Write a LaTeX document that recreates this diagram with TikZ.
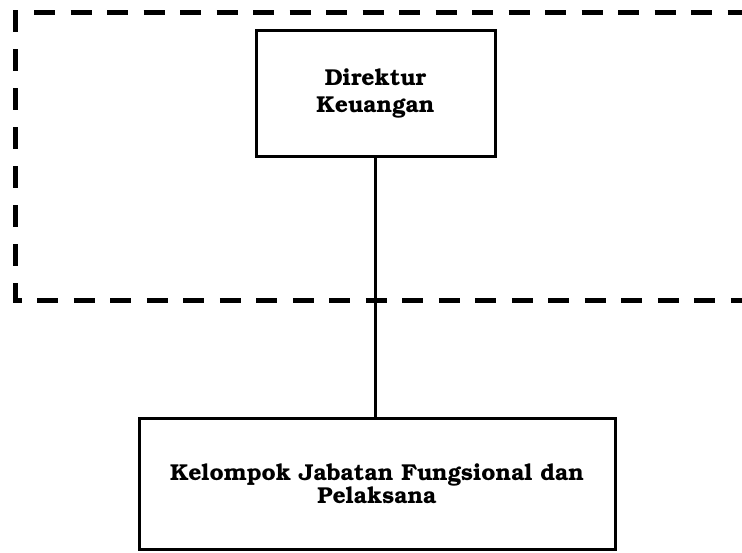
\documentclass[tikz,border=0pt]{standalone}
\usepackage[T1]{fontenc}
\usepackage{bookman}
\begin{document}
\begin{tikzpicture}[x=1pt,y=-1pt,
  unitbox/.style={draw=black,line width=3pt,inner sep=0pt,align=center,
    font=\bfseries\fontsize{23}{27}\selectfont},
  frameline/.style={line width=5.5pt,line cap=butt}]
  \useasboundingbox (0,0) rectangle (742,552);
  \clip (0,0) rectangle (742,552);
  % dashed frame around the director's area (open on the right)
  \draw[frameline,dash pattern=on 21pt off 15.5pt] (34,12.5) -- (760,12.5);
  \draw[frameline,dash pattern=on 22pt off 17pt] (15.5,10) -- (15.5,303);
  \draw[frameline,dash pattern=on 21pt off 15.5pt,dash phase=12pt] (12.75,300.5) -- (760,300.5);
  % units
  \node[unitbox,minimum width=239pt,minimum height=126pt] (dir) at (375.5,93)
    {Direktur\\Keuangan};
  \node[unitbox,minimum width=476pt,minimum height=131.5pt,
    font=\bfseries\fontsize{23}{23}\selectfont] (kjf) at (377,484)
    {Kelompok Jabatan Fungsional dan\\Pelaksana};
  % reporting line
  \draw[line width=3pt] (dir.south -| 375,0) -- (kjf.north -| 375,0);
\end{tikzpicture}
\end{document}
